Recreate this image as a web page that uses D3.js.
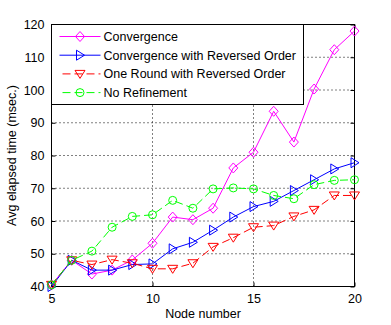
<!DOCTYPE html>
<html>
<head>
<meta charset="utf-8">
<script src="https://cdn.jsdelivr.net/npm/d3@7"></script>
<style>
  body { margin: 0; background: #fff; }
  svg { display: block; font-family: "Liberation Sans", Arial, sans-serif; }
</style>
</head>
<body>
<div id="chart"></div>
<script>
// data //
const nodes = [5, 6, 7, 8, 9, 10, 11, 12, 13, 14, 15, 16, 17, 18, 19, 20]
const convergence = [40.5, 48, 43.8, 45, 48.1, 53.2, 61.2, 60.4, 63.9, 76.2, 81, 93.5, 84.1, 100.3, 112.3, 118]
const convergenceRev = [40, 48, 45, 45, 46.7, 46.9, 51.5, 53.5, 57.2, 61.2, 64.4, 66, 69.3, 72.6, 75.9, 77.8]
const oneRoundRev = [40.5, 48, 46.7, 48.2, 47.1, 45.4, 45.4, 47.1, 52.1, 54.9, 58.1, 58.6, 61.4, 63.4, 67.8, 67.8]
const noRefinement = [40.5, 48, 50.8, 58.1, 61.4, 61.9, 66.3, 63.9, 69.8, 70.1, 69.8, 67.8, 66.8, 71.1, 72.4, 72.6]
const seriesNames = ['Convergence', 'Convergence with Reversed Order', 'One Round with Reversed Order', 'No Refinement']
const xTicks = [5, 10, 15, 20]
const yTicks = [40, 50, 60, 70, 80, 90, 100, 110, 120]

const series = [
  { name: seriesNames[0], values: convergence, color: '#ff00ff', dash: null, marker: 'diamond' },
  { name: seriesNames[1], values: convergenceRev, color: '#0000ff', dash: null, marker: 'right' },
  { name: seriesNames[2], values: oneRoundRev, color: '#ff0000', dash: '8,4', marker: 'down' },
  { name: seriesNames[3], values: noRefinement, color: '#00ff00', dash: '8,4', marker: 'circle' }
]

// svg //
const width = 391
const height = 325
const margin = { top: 24, right: 37, bottom: 39, left: 51 }

const svg = d3.select('#chart').append('svg')
  .attr('width', width)
  .attr('height', height)

const x = d3.scaleLinear().domain([5, 20]).range([margin.left + 0.5, width - margin.right + 0.5])
const y = d3.scaleLinear().domain([40, 120]).range([height - margin.bottom + 0.5, margin.top + 0.5])

// grid
svg.append('g').selectAll('line')
  .data(xTicks.slice(1, -1))
  .enter().append('line')
  .attr('x1', d => x(d)).attr('x2', d => x(d))
  .attr('y1', y(40)).attr('y2', y(120))
  .attr('stroke', '#000').attr('stroke-dasharray', '1,3')

svg.append('g').selectAll('line')
  .data(yTicks.slice(1, -1))
  .enter().append('line')
  .attr('x1', x(5)).attr('x2', x(20))
  .attr('y1', d => y(d)).attr('y2', d => y(d))
  .attr('stroke', '#000').attr('stroke-dasharray', '1,3')

// axes (ticks inward, on all sides)
const tickLen = 4
const axisStyle = g => {
  g.select('.domain').remove()
  g.selectAll('.tick line').attr('stroke', '#000')
  g.selectAll('.tick text').attr('fill', '#000').style('font-size', '12.5px')
}
svg.append('g')
  .attr('transform', `translate(0, ${y(40)})`)
  .call(d3.axisBottom(x).tickValues(xTicks).tickSizeInner(-tickLen).tickPadding(8))
  .call(axisStyle)
svg.append('g')
  .attr('transform', `translate(0, ${y(120)})`)
  .call(d3.axisTop(x).tickValues(xTicks).tickSizeInner(-tickLen).tickFormat(''))
  .call(axisStyle)
svg.append('g')
  .attr('transform', `translate(${x(5)}, 0)`)
  .call(d3.axisLeft(y).tickValues(yTicks).tickSizeInner(-tickLen).tickPadding(7))
  .call(axisStyle)
svg.append('g')
  .attr('transform', `translate(${x(20)}, 0)`)
  .call(d3.axisRight(y).tickValues(yTicks).tickSizeInner(-tickLen).tickFormat(''))
  .call(axisStyle)

svg.append('rect')
  .attr('x', x(5)).attr('y', y(120))
  .attr('width', x(20) - x(5)).attr('height', y(40) - y(120))
  .attr('fill', 'none').attr('stroke', '#000')

// markers
const markerPath = (type) => {
  if (type === 'diamond') return 'M0,-5L4.5,0L0,5L-4.5,0Z'
  if (type === 'right') return 'M-3.5,-5L4.5,0L-3.5,5Z'
  if (type === 'down') return 'M-5,-3.5L5,-3.5L0,4.5Z'
  return d3.arc()({ innerRadius: 0, outerRadius: 4, startAngle: 0, endAngle: 2 * Math.PI })
}

const line = d3.line()
  .x((d, i) => x(nodes[i]))
  .y(d => y(d))

series.forEach(s => {
  const g = svg.append('g')
  g.append('path')
    .attr('d', line(s.values))
    .attr('fill', 'none')
    .attr('stroke', s.color)
    .attr('stroke-dasharray', s.dash)
  g.selectAll('path.mark')
    .data(s.values)
    .enter().append('path')
    .attr('class', 'mark')
    .attr('d', markerPath(s.marker))
    .attr('transform', (d, i) => `translate(${x(nodes[i])}, ${y(d)})`)
    .attr('fill', 'none')
    .attr('stroke', s.color)
})

// legend
const legend = svg.append('g')
  .attr('transform', `translate(${x(5)}, ${y(120)})`)
legend.append('rect')
  .attr('width', 252).attr('height', 80)
  .attr('fill', '#fff').attr('stroke', '#000')

const item = legend.selectAll('g.item')
  .data(series)
  .enter().append('g')
  .attr('class', 'item')
  .attr('transform', (d, i) => `translate(0, ${12 + i * 18.7})`)
item.append('line')
  .attr('x1', d => d.dash ? 11 : 8).attr('x2', 49)
  .attr('stroke', d => d.color)
  .attr('stroke-dasharray', d => d.dash)
item.append('path')
  .attr('d', d => markerPath(d.marker))
  .attr('transform', 'translate(28.5, 0)')
  .attr('fill', 'none')
  .attr('stroke', d => d.color)
item.append('text')
  .attr('x', 52)
  .attr('dy', '0.36em')
  .style('font-size', '12.5px')
  .text(d => d.name)

// axis labels
svg.append('text')
  .attr('x', (x(5) + x(20)) / 2)
  .attr('y', 318)
  .attr('text-anchor', 'middle')
  .style('font-size', '12.5px')
  .text('Node number')

svg.append('text')
  .attr('transform', `translate(16, ${(y(40) + y(120)) / 2}) rotate(-90)`)
  .attr('text-anchor', 'middle')
  .style('font-size', '12.5px')
  .text('Avg elapsed time (msec.)')
</script>
</body>
</html>
